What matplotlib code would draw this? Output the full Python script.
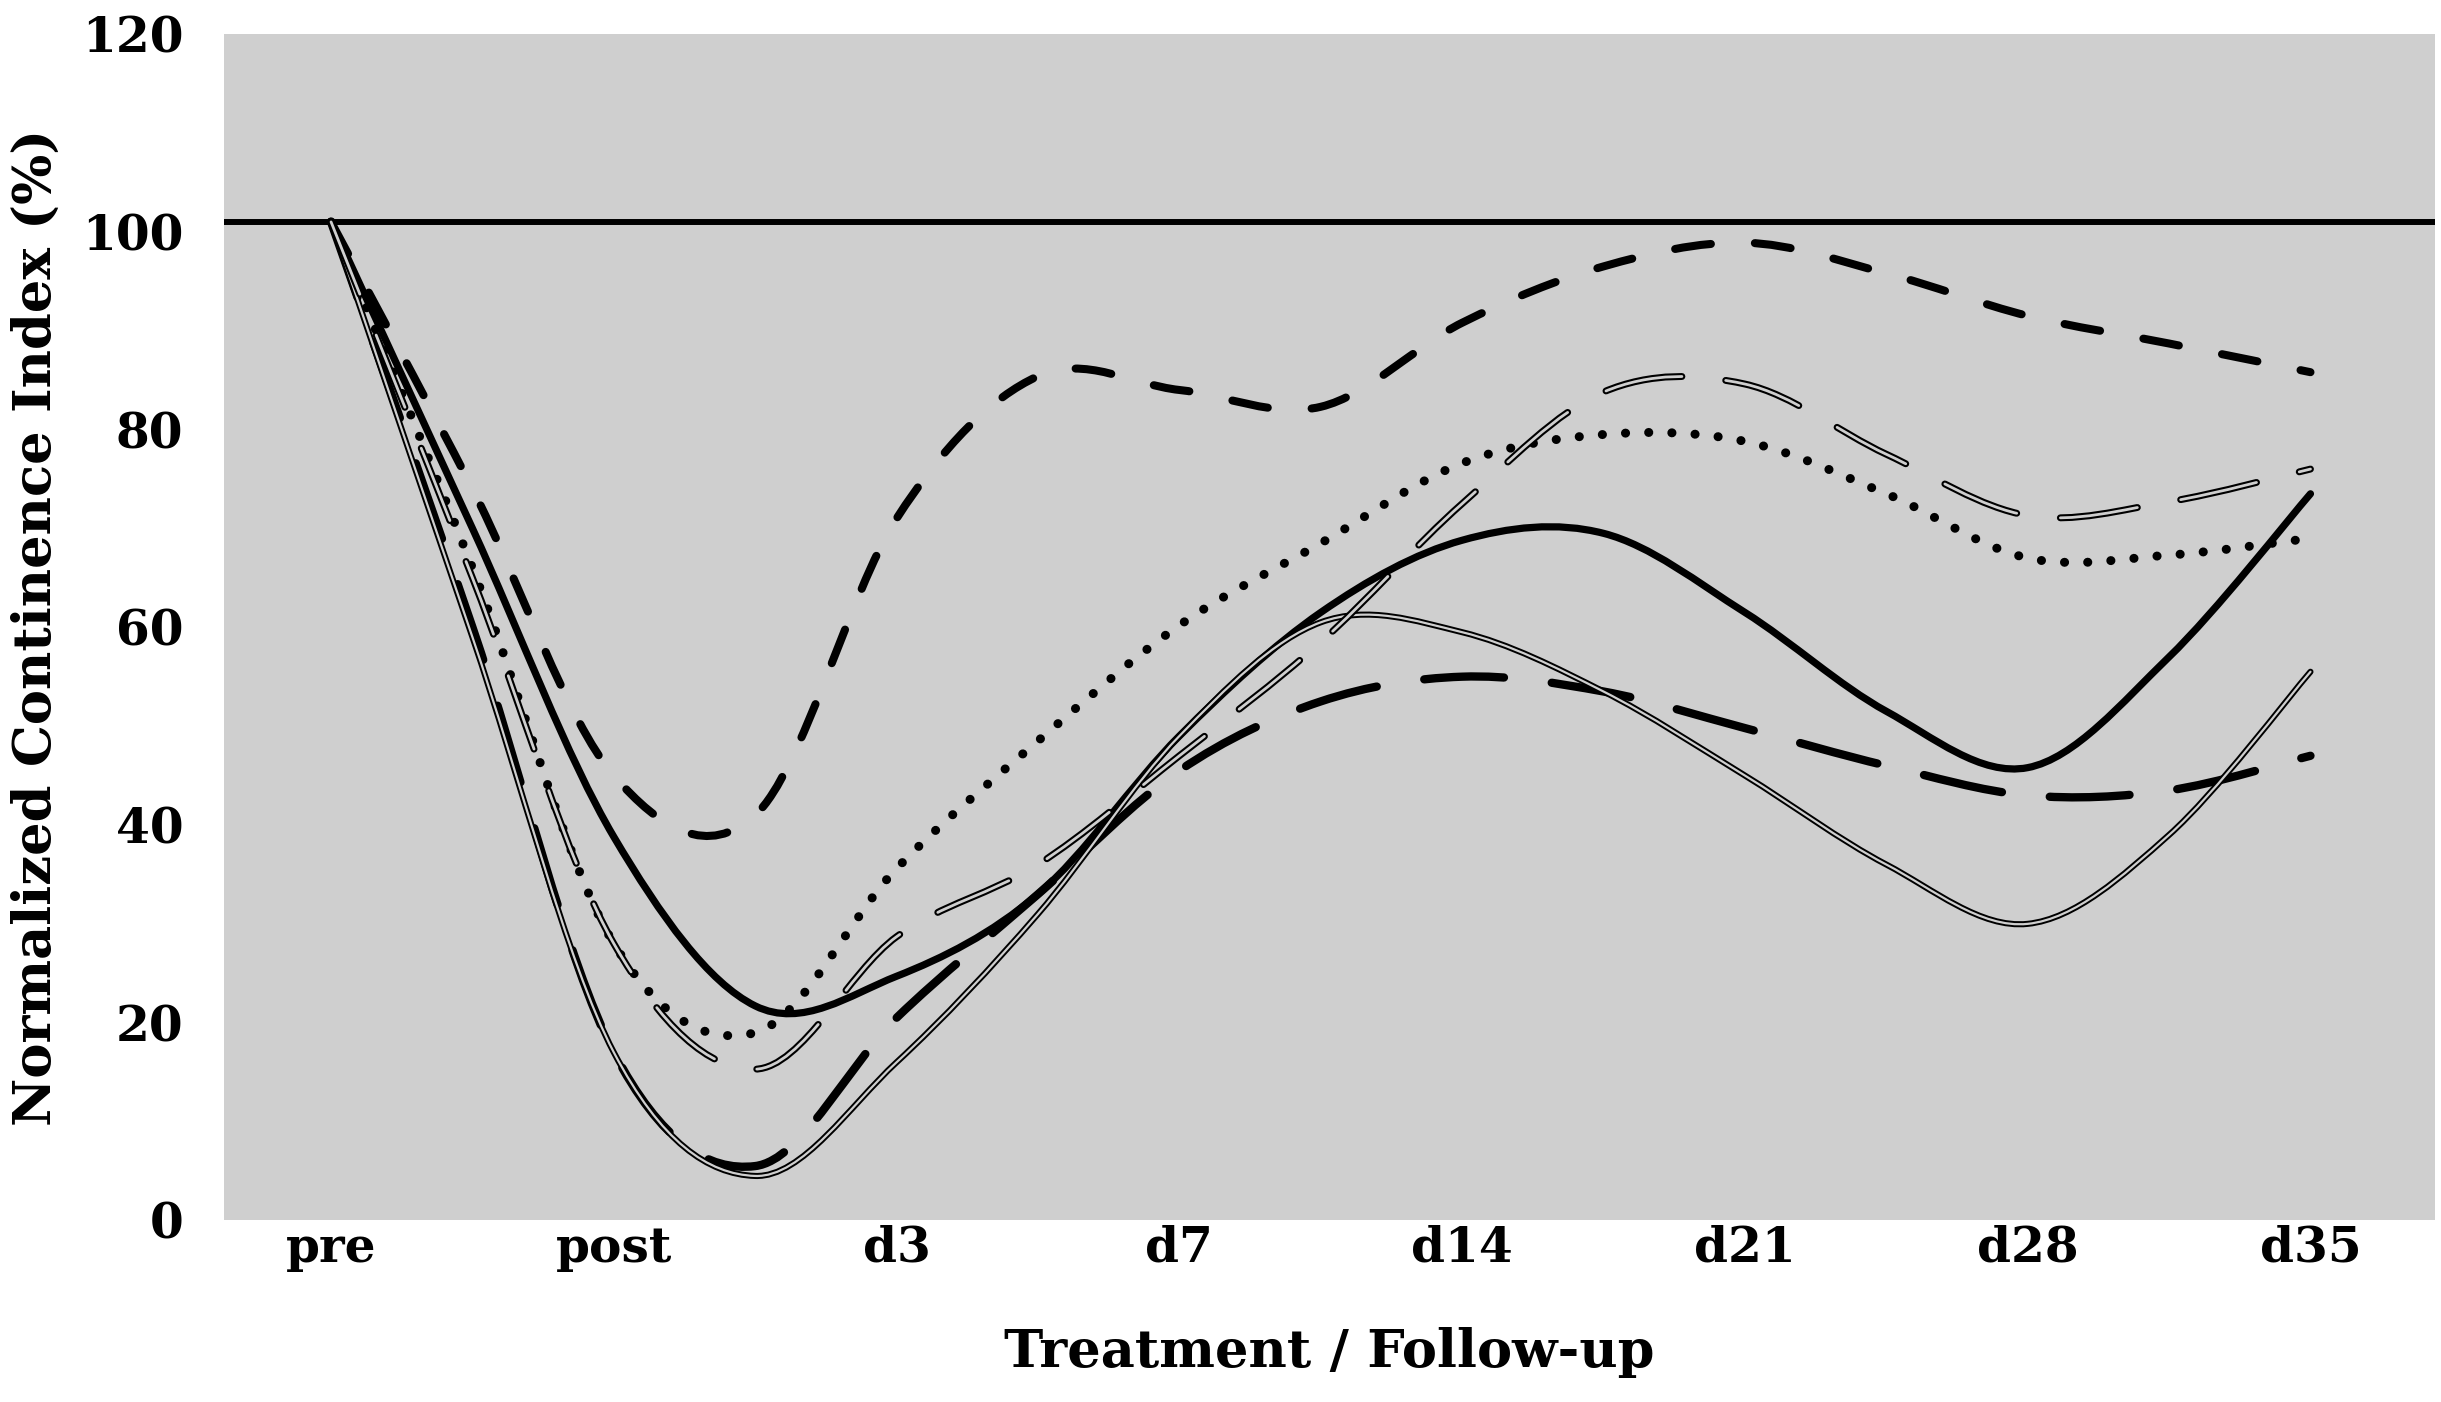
#Normalized continence index after treatment, smoothed curves per group

import numpy as np
import matplotlib.pyplot as plt
from matplotlib.path import Path
from matplotlib.patches import PathPatch

plt.rcParams['lines.scale_dashes'] = False

#data
categories = ["pre", "post", "d3", "d7", "d14", "d21", "d28", "d35"]
read_pos = [0, 0.5, 1, 1.5, 2, 2.5, 3, 3.5, 4, 4.5, 5, 5.5, 6, 6.5, 7]  #values read every half step
baseline = 101

grp_a = [101, 74, 45, 41, 71, 85.4, 84, 82.3, 90.8, 96.5, 98.9, 95.8, 91.5, 88.7, 85.8]
grp_b = [101, 65, 28, 15.3, 28.7, 36, 47, 58.5, 72.5, 83.8, 84.6, 77.5, 71.3, 72.7, 76]
grp_c = [101, 66, 28, 19, 35.6, 48.5, 60.2, 68.5, 76.6, 79.5, 78.8, 73.5, 67, 67.3, 69]
grp_d = [101, 70, 38.8, 21.7, 24.7, 33, 49, 61.5, 68.8, 69.5, 61.5, 51.5, 45.8, 57, 73.5]
grp_e = [101, 59, 17, 4.5, 16, 31, 49, 60.5, 59.5, 53.5, 45, 36, 30, 39, 55.5]
grp_f = [101, 60, 17, 5.5, 20.5, 33, 45.5, 52.5, 55, 53.5, 49.8, 46, 43, 43.5, 47]

bg = '#cfcfcf'

def smooth_path(xs, ys): #Catmull-Rom curve through the points, as cubic Bezier segments
    p = np.column_stack([xs, ys]).astype(float)
    n = len(p)
    verts = [p[0]]
    codes = [Path.MOVETO]
    for i in range(n-1):
        p0 = p[max(i-1, 0)]
        p1 = p[i]
        p2 = p[i+1]
        p3 = p[min(i+2, n-1)]
        verts += [p1 + (p2-p0)/6, p2 - (p3-p1)/6, p2]
        codes += [Path.CURVE4]*3
    return Path(verts, codes)

def draw(ax, ys, lw, color='black', ls='-', z=3):
    patch = PathPatch(smooth_path(read_pos, ys), fill=False, edgecolor=color,
                      lw=lw, linestyle=ls, capstyle='round', joinstyle='round', zorder=z)
    ax.add_patch(patch)

fig = plt.figure(figsize=(24.41, 14.02), dpi=100)
ax = fig.add_axes([0.0916, 0.1295, 0.9059, 0.8462])
ax.set_facecolor(bg)
for s in ax.spines.values():
    s.set_visible(False)

ax.axhline(baseline, color='black', lw=4.3, zorder=2)

#thick long dashes
draw(ax, grp_f, 6.0, ls=(0, (57.5, 34.6)))
#double solid line
draw(ax, grp_e, 4.4)
draw(ax, grp_e, 1.6, color=bg, z=3.1)
#thick solid
draw(ax, grp_d, 5.2)
#dotted
draw(ax, grp_c, 6.5, ls=(0, (0.1, 16.6)))
#double long dashes
draw(ax, grp_b, 5.0, ls=(0, (56, 31.7)), z=3.2)
draw(ax, grp_b, 2.0, color=bg, ls=(0, (56, 31.7)), z=3.3)
#thick short dashes
draw(ax, grp_a, 5.8, ls=(0, (26, 31.7)))

ax.set_xlim(-0.38, 7.44)
ax.set_ylim(0, 120)
ax.set_xticks(range(len(categories)))
ax.set_xticklabels(categories)
ax.set_yticks(range(0, 121, 20))
ax.tick_params(length=0)
ax.tick_params(axis='y', pad=29)
ax.tick_params(axis='x', pad=3)
for t in ax.get_xticklabels() + ax.get_yticklabels():
    t.set_family('DejaVu Serif')
    t.set_weight('bold')
    t.set_fontsize(35)

ax.set_xlabel("Treatment / Follow-up", family='DejaVu Serif', weight='bold', size=38)
ax.set_ylabel("Normalized Continence Index (%)", family='DejaVu Serif', weight='bold', size=38)
ax.xaxis.set_label_coords(0.5, -0.090)
ax.yaxis.set_label_coords(-0.073, 0.5)

plt.savefig("out.png", dpi=100, facecolor='white')
